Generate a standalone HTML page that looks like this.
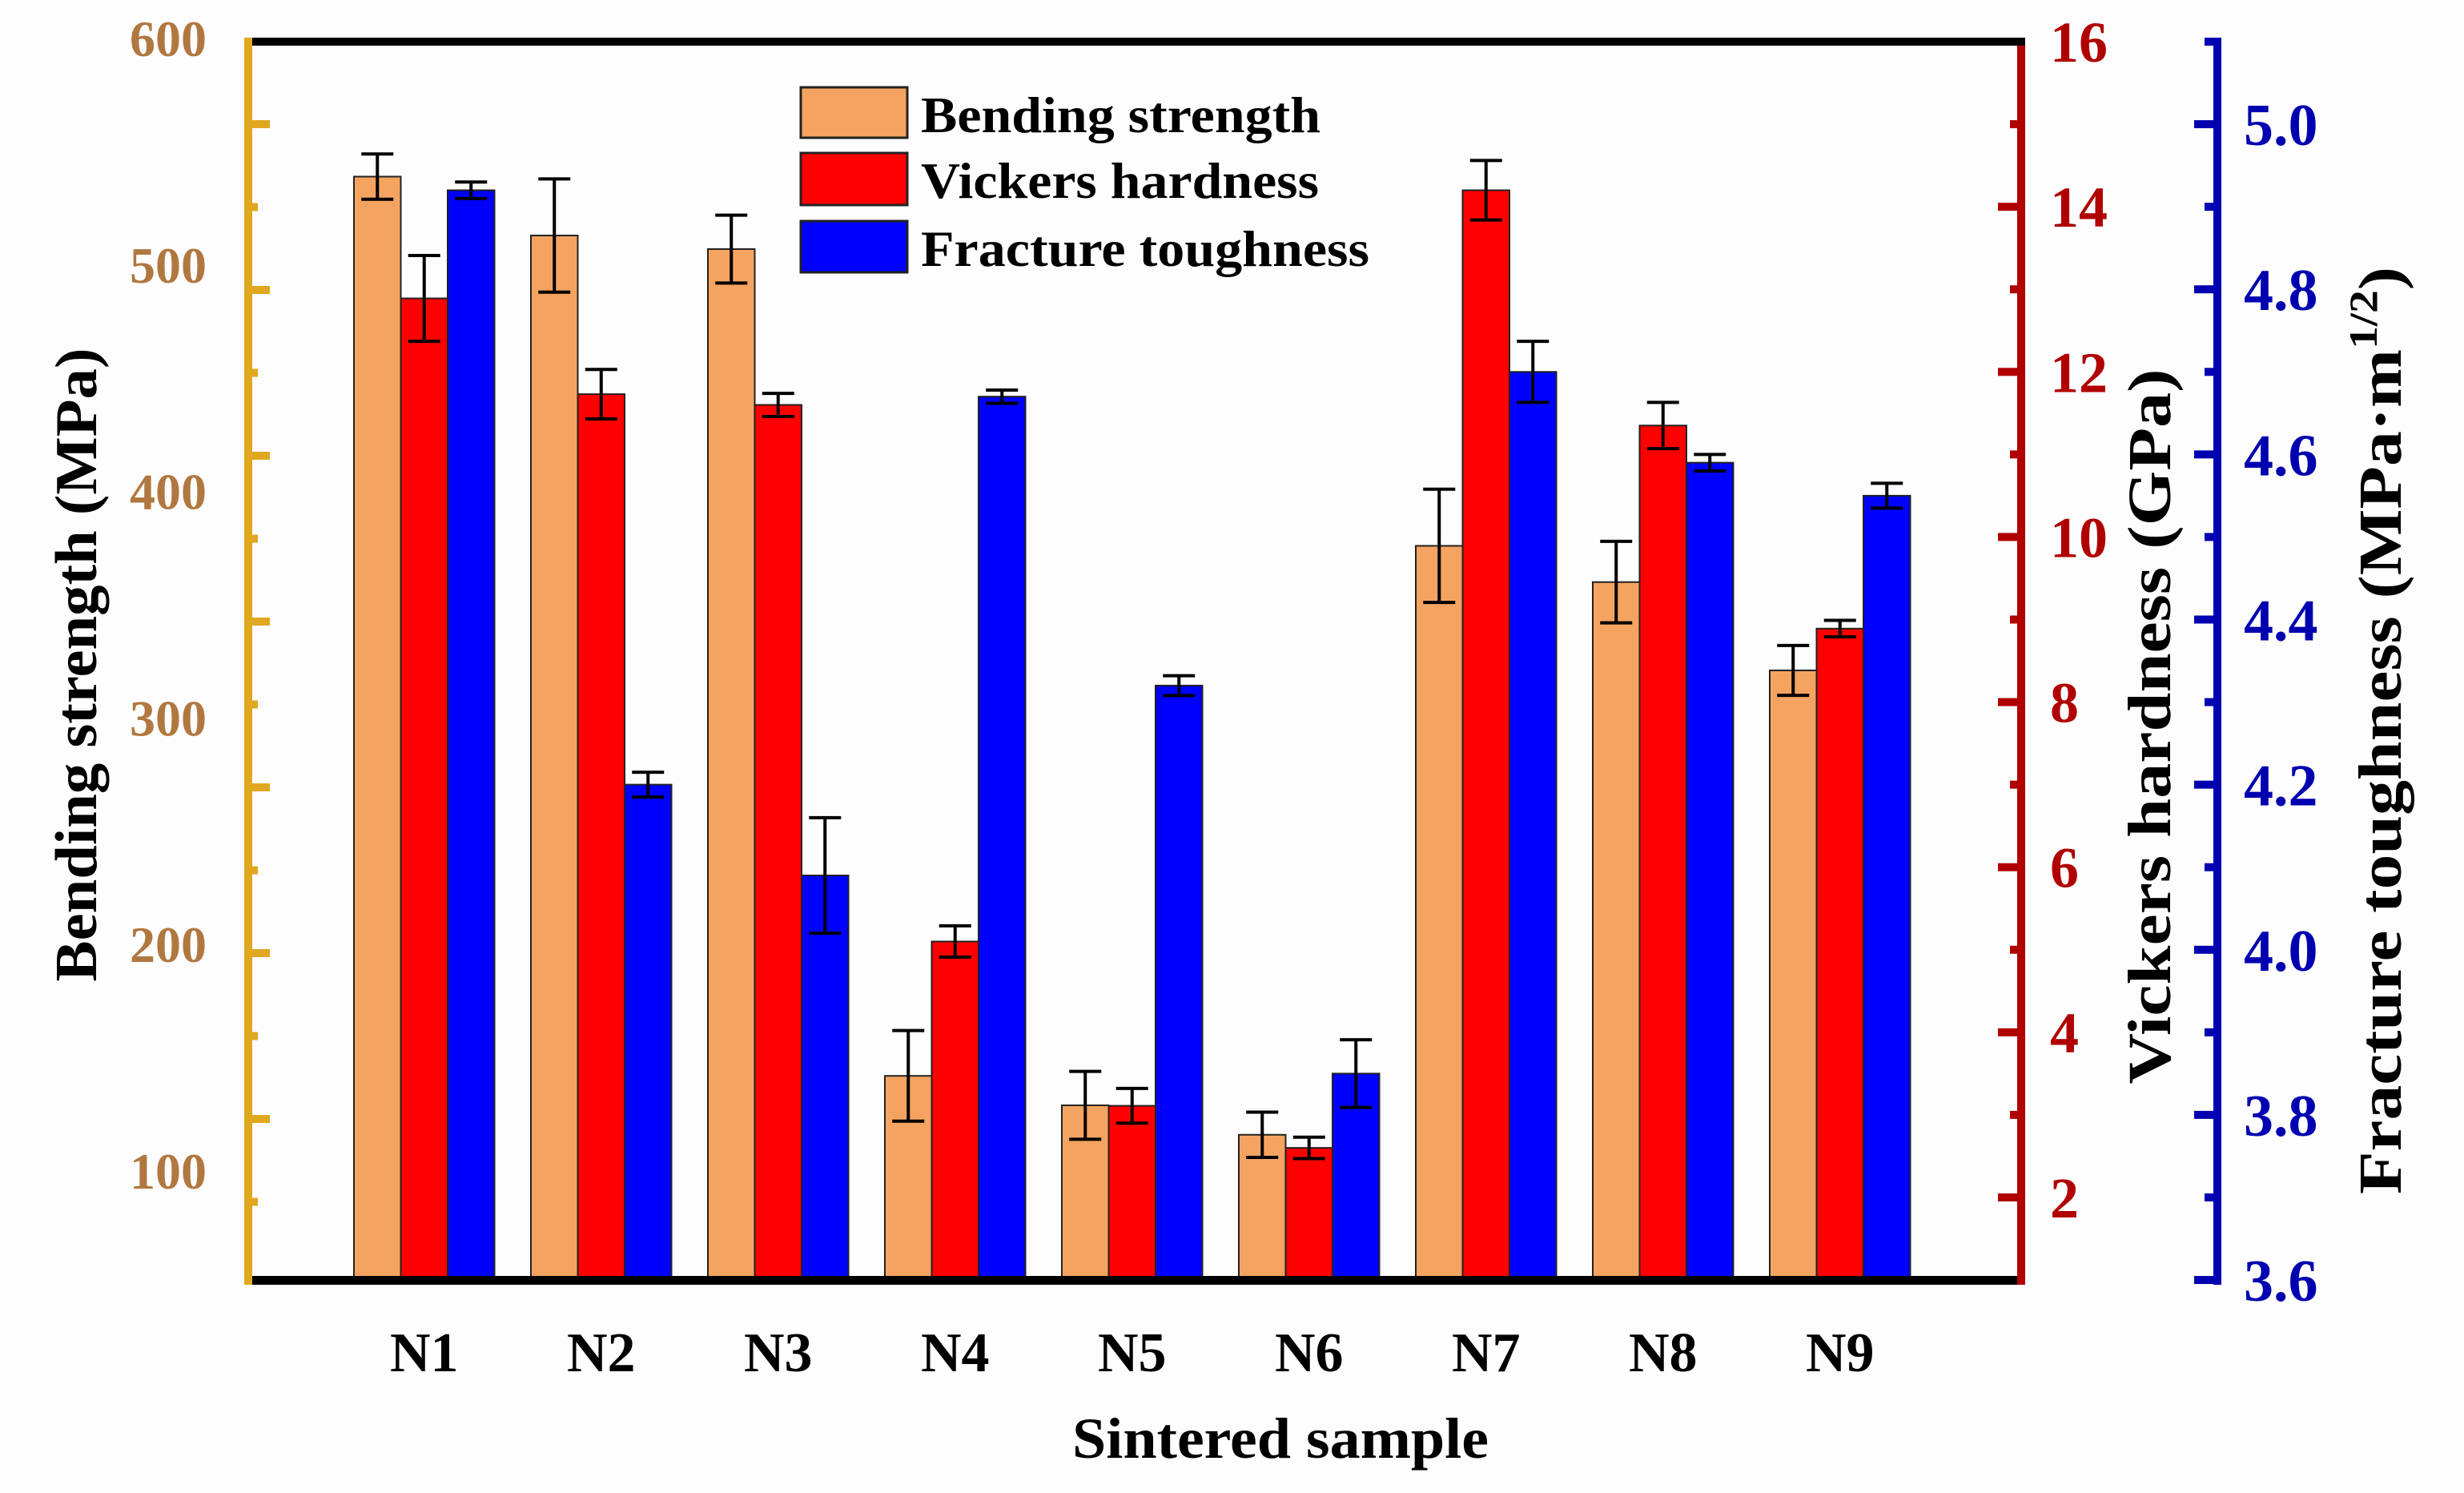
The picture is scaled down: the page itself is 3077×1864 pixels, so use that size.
<!DOCTYPE html>
<html><head><meta charset="utf-8"><style>
html,body{margin:0;padding:0;background:#fff;}
svg{display:block;font-family:"Liberation Serif",serif;font-weight:bold;}
</style></head><body>
<svg id="chart" width="3077" height="1864" viewBox="0 0 3077 1864" xmlns="http://www.w3.org/2000/svg">
<rect x="0" y="0" width="3077" height="1864" fill="#fdfdfd"/>
<g id="marks"></g>
<g id="axes"></g>
</svg>
<script>
const categories = ["N1","N2","N3","N4","N5","N6","N7","N8","N9"];
const bending = [539, 513, 507, 142, 129, 116, 376, 360, 321];
const bendingErr = [10, 25, 15, 20, 15, 10, 25, 18, 11];
const hardness = [12.89, 11.73, 11.60, 5.10, 3.11, 2.60, 14.20, 11.35, 8.89];
const hardnessErr = [0.52, 0.30, 0.14, 0.19, 0.21, 0.13, 0.36, 0.28, 0.10];
const toughness = [4.92, 4.20, 4.09, 4.67, 4.32, 3.85, 4.70, 4.59, 4.55];
const toughnessErr = [0.01, 0.015, 0.07, 0.008, 0.012, 0.041, 0.037, 0.01, 0.015];
const leftTicks = [600, 500, 400, 300, 200, 100];
const redTicks = [16, 14, 12, 10, 8, 6, 4, 2];
const blueTicks = ["5.0", "4.8", "4.6", "4.4", "4.2", "4.0", "3.8", "3.6"];

const NS = "http://www.w3.org/2000/svg";
const marks = document.getElementById("marks");
const axes = document.getElementById("axes");
const TOP = 52, BOT = 1598;
const yLeft = v => 48 + (600 - v) * 2.828;
const yRed = v => TOP + (16 - v) * 103.07;
const yBlue = v => TOP + (5.1 - v) * 1030.7;
const xGroup = i => 442 + i * 221;
const BW = 58.5;

function mk(tag, attrs, parent) {
  const e = document.createElementNS(NS, tag);
  for (const k in attrs) e.setAttribute(k, attrs[k]);
  parent.appendChild(e);
  return e;
}
function bar(x, v, err, yf, fill, name) {
  const y = yf(v);
  const r = mk("rect", {x: x, y: y, width: BW, height: BOT - y, fill: fill, stroke: "#222", "stroke-width": 2}, marks);
  
  
  const cx = x + BW / 2, y1 = yf(v + err), y2 = yf(v - err);
  const g = mk("g", {stroke: "#000", "stroke-width": 4}, marks);
  
  
  mk("line", {x1: cx, x2: cx, y1: y1, y2: y2}, g);
  mk("line", {x1: cx - 20, x2: cx + 20, y1: y1, y2: y1}, g);
  mk("line", {x1: cx - 20, x2: cx + 20, y1: y2, y2: y2}, g);
}
categories.forEach((c, i) => {
  const x = xGroup(i);
  bar(x, bending[i], bendingErr[i], yLeft, "#f4a460", "bending-bar-" + c.toLowerCase());
  bar(x + BW, hardness[i], hardnessErr[i], yRed, "#ff0000", "hardness-bar-" + c.toLowerCase());
  bar(x + 2 * BW, toughness[i], toughnessErr[i], yBlue, "#0000ff", "toughness-bar-" + c.toLowerCase());
  const t = mk("text", {x: x + 1.5 * BW, y: 1712, "text-anchor": "middle", "font-size": 70, fill: "#000"}, axes);
  t.textContent = c;
  
  
});

mk("rect", {x: 305, y: 47, width: 2224, height: 10, fill: "#000"}, axes);
mk("rect", {x: 305, y: 1593, width: 2224, height: 11, fill: "#000"}, axes);
const la = mk("g", {fill: "#e0a820"}, axes);


mk("rect", {x: 305, y: 47, width: 10, height: 1557}, la);
for (let k = 0; k < 15; k++) {
  const y = 155 + k * 103.5 - 103.5;
  if (y < 60 || y > 1590) continue;
  const major = (k % 2 === 1);
  mk("rect", {x: 315, y: y - 5, width: major ? 22 : 7, height: 10}, la);
}
leftTicks.forEach(v => {
  const t = mk("text", {x: 258, y: yLeft(v) + 22, "text-anchor": "end", "font-size": 64, fill: "#b07840"}, axes);
  t.textContent = v;
  
  
});
const ra = mk("g", {fill: "#b00000"}, axes);


mk("rect", {x: 2519, y: 57, width: 10, height: 1547}, ra);
for (let v = 15; v >= 2; v--) {
  const major = v % 2 === 0;
  mk("rect", {x: major ? 2495 : 2510, y: yRed(v) - 5, width: major ? 24 : 9, height: 10}, ra);
}
redTicks.forEach(v => {
  const t = mk("text", {x: 2560, y: yRed(v) + 25, "font-size": 72, fill: "#b00000"}, axes);
  t.textContent = v;
  
  
});
const ba = mk("g", {fill: "#0000b0"}, axes);


mk("rect", {x: 2764, y: 47, width: 10, height: 1557}, ba);
mk("rect", {x: 2753, y: 47, width: 12, height: 10}, ba);
for (let k = 1; k <= 15; k++) {
  const v = 5.1 - k * 0.1;
  const major = k % 2 === 1;
  const y = yBlue(v);
  mk("rect", {x: major ? 2740 : 2753, y: Math.min(y - 5, 1594), width: major ? 25 : 12, height: 10}, ba);
}
blueTicks.forEach(s => {
  const t = mk("text", {x: 2802, y: yBlue(parseFloat(s)) + 26, "font-size": 74, fill: "#0000b0"}, axes);
  t.textContent = s;
  
  
});
</script>
<svg style="position:absolute;left:0;top:0" width="3077" height="1864" viewBox="0 0 3077 1864" xmlns="http://www.w3.org/2000/svg" font-family="Liberation Serif, serif" font-weight="bold">
<text x="0" y="0" transform="translate(120,830) rotate(-90)" text-anchor="middle" font-size="74" textLength="791" lengthAdjust="spacingAndGlyphs" fill="#000">Bending strength (MPa)</text>
<text x="0" y="0" transform="translate(2710,907) rotate(-90)" text-anchor="middle" font-size="76" textLength="893" lengthAdjust="spacingAndGlyphs" fill="#000">Vickers hardness (GPa)</text>
<text x="0" y="0" transform="translate(2998,912) rotate(-90)" text-anchor="middle" font-size="76" fill="#000" textLength="1158" lengthAdjust="spacingAndGlyphs">Fracture toughness (MPa·m<tspan dy="-30" font-size="50">1/2</tspan><tspan dy="30">)</tspan></text>
<text x="1599" y="1820" text-anchor="middle" font-size="72" textLength="520" lengthAdjust="spacingAndGlyphs" fill="#000">Sintered sample</text>
<g>
<rect x="1000" y="109" width="133" height="63" fill="#f4a460" stroke="#222" stroke-width="3"/>
<rect x="1000" y="191" width="133" height="65" fill="#ff0000" stroke="#222" stroke-width="3"/>
<rect x="1000" y="276" width="133" height="64" fill="#0000ff" stroke="#222" stroke-width="3"/>
<text x="1150" y="165" font-size="64" textLength="499" lengthAdjust="spacingAndGlyphs">Bending strength</text>
<text x="1150" y="247" font-size="64" textLength="497" lengthAdjust="spacingAndGlyphs">Vickers hardness</text>
<text x="1150" y="332" font-size="64" textLength="560" lengthAdjust="spacingAndGlyphs">Fracture toughness</text>
</g>
</svg>
</body></html>
